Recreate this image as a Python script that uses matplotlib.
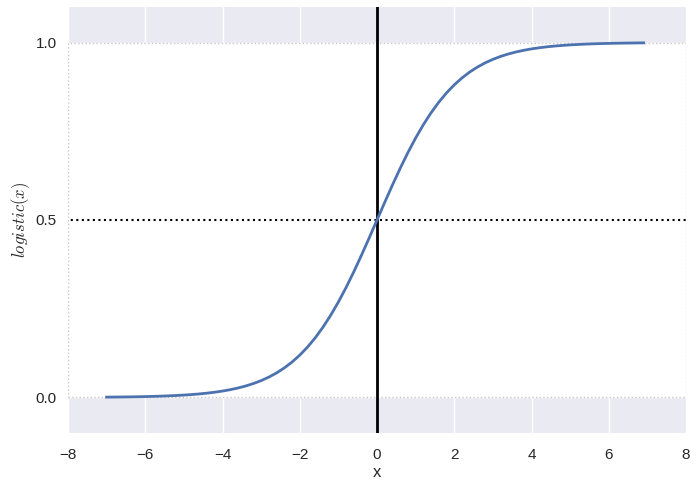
import matplotlib
matplotlib.use("Agg")
import matplotlib.pyplot as plt

# values (every 0.2 along x)
x_vals = [-7.0, -6.8, -6.6, -6.4, -6.2, -6.0, -5.8, -5.6, -5.4, -5.2,
          -5.0, -4.8, -4.6, -4.4, -4.2, -4.0, -3.8, -3.6, -3.4, -3.2,
          -3.0, -2.8, -2.6, -2.4, -2.2, -2.0, -1.8, -1.6, -1.4, -1.2,
          -1.0, -0.8, -0.6, -0.4, -0.2, 0.0, 0.2, 0.4, 0.6, 0.8,
          1.0, 1.2, 1.4, 1.6, 1.8, 2.0, 2.2, 2.4, 2.6, 2.8,
          3.0, 3.2, 3.4, 3.6, 3.8, 4.0, 4.2, 4.4, 4.6, 4.8,
          5.0, 5.2, 5.4, 5.6, 5.8, 6.0, 6.2, 6.4, 6.6, 6.8, 6.9]
y_vals = [0.00091, 0.00111, 0.00136, 0.00166, 0.00203, 0.00247, 0.00302,
          0.00369, 0.00450, 0.00549, 0.00669, 0.00816, 0.00995, 0.01213,
          0.01478, 0.01799, 0.02188, 0.02660, 0.03230, 0.03916, 0.04743,
          0.05732, 0.06914, 0.08317, 0.09975, 0.11920, 0.14185, 0.16798,
          0.19782, 0.23148, 0.26894, 0.31003, 0.35434, 0.40131, 0.45017,
          0.50000, 0.54983, 0.59869, 0.64566, 0.68997, 0.73106, 0.76852,
          0.80218, 0.83202, 0.85815, 0.88080, 0.90025, 0.91683, 0.93086,
          0.94268, 0.95257, 0.96084, 0.96770, 0.97340, 0.97812, 0.98201,
          0.98522, 0.98787, 0.99005, 0.99184, 0.99331, 0.99451, 0.99550,
          0.99631, 0.99698, 0.99753, 0.99797, 0.99834, 0.99864, 0.99889,
          0.99899]
x_ticks = [-8, -6, -4, -2, 0, 2, 4, 6, 8]
y_ticks = [0.0, 0.5, 1.0]

plt.rcParams['font.family'] = ['Liberation Sans', 'DejaVu Sans']
plt.rcParams['mathtext.fontset'] = 'cm'

fig = plt.figure(figsize=(6.98, 4.87), dpi=100)
ax = fig.add_axes([0.0974, 0.111, 0.8855, 0.8746])
ax.set_facecolor('#EAEAF2')
for s in ax.spines.values():
    s.set_visible(False)
ax.grid(True, color='white', linewidth=1.0)
ax.set_axisbelow(True)

# white band between 0 and 1 with dotted light edges
ax.axhspan(0, 1, facecolor='white', edgecolor='#c8c8c8', linestyle=':',
           linewidth=1.0, zorder=0.8)

ax.plot([-10, 10], [0.5, 0.5], 'k:', linewidth=1.5, zorder=2)
ax.plot([0, 0], [-1.1, 1.1], 'k-', linewidth=2, zorder=2)
ax.plot(x_vals, y_vals, color='#4C72B0', linewidth=2, zorder=3)

ax.set_xlim(-8, 8)
ax.set_ylim(-0.1, 1.1)
ax.set_xticks(x_ticks)
ax.set_yticks(y_ticks)
ax.tick_params(length=0, labelsize=11, pad=8, colors='#262626')
ax.tick_params(axis='x', pad=11)
ax.set_xlabel('x', fontsize=12, color='#262626', labelpad=2)
ax.set_ylabel(r'$logistic(x)$', fontsize=12, color='#262626', labelpad=3)

fig.savefig('out.png', dpi=100)
